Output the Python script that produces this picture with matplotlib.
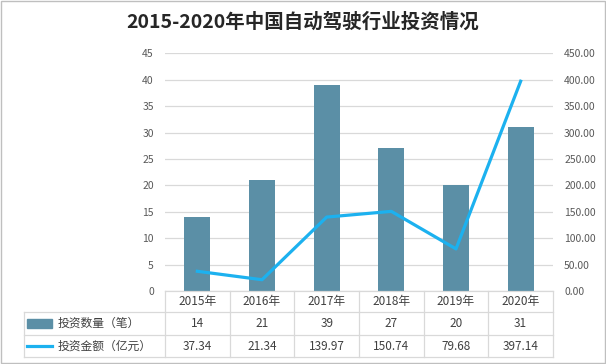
import matplotlib
matplotlib.use("Agg")
import matplotlib.pyplot as plt
from matplotlib.patches import Rectangle

plt.rcParams["font.family"] = ["Noto Sans CJK SC", "DejaVu Sans"]

years = ["2015年", "2016年", "2017年", "2018年", "2019年", "2020年"]
count = [14, 21, 39, 27, 20, 31]
amount = [37.34, 21.34, 139.97, 150.74, 79.68, 397.14]
count_label = "投资数量（笔）"
amount_label = "投资金额（亿元）"
title = "2015-2020年中国自动驾驶行业投资情况"

bar_color = "#5b8fa6"
line_color = "#1cb1ef"
grid_color = "#d9d9d9"
text_color = "#404040"
tick_color = "#595959"

fig = plt.figure(figsize=(6.06, 3.64), dpi=100)
ax = fig.add_axes([165 / 606, 73 / 364, 388 / 606, 237.7 / 364])
ax2 = ax.twinx()

x = list(range(len(years)))
ax.bar(x, count, width=0.40, color=bar_color, zorder=2)
ax2.plot(x, amount, color=line_color, linewidth=2.3, zorder=3)

ax.set_xlim(-0.5, 5.5)
ax.set_ylim(0, 45)
ax.set_yticks(range(0, 50, 5))
ax2.set_ylim(0, 450)
ax2.set_yticks(range(0, 500, 50))
ax2.set_yticklabels(["%.2f" % v for v in range(0, 500, 50)])
ax.set_xticks([])

ax.yaxis.grid(True, color=grid_color, linewidth=0.9, zorder=0)
ax.set_axisbelow(True)
for a in (ax, ax2):
    for s in a.spines.values():
        s.set_visible(False)
    a.tick_params(axis="y", length=0, labelsize=7.5, labelcolor=tick_color, pad=8)
ax2.tick_params(axis="y", pad=8)

fig.text(0.5, 1 - 22 / 364, title, ha="center", va="center",
         fontsize=14, fontweight="bold", color="#262626")

# data table under the plot
tr = ax.get_xaxis_transform()
lk = dict(transform=tr, color=grid_color, linewidth=0.9, clip_on=False)
y_top, y_h, y_r1, y_bot = 0, -0.088, -0.185, -0.278
left = -2.68
ax.plot([-0.5, 5.5], [y_top, y_top], **lk)
for yy in (y_h, y_r1, y_bot):
    ax.plot([left, 5.5], [yy, yy], **lk)
ax.plot([left, left], [y_h, y_bot], **lk)
for i in range(7):
    ax.plot([i - 0.5, i - 0.5], [y_top, y_bot], **lk)

tk = dict(transform=tr, ha="center", va="center", fontsize=8.5, color=text_color, clip_on=False)
for i, (yr, c, m) in enumerate(zip(years, count, amount)):
    ax.text(i, (y_top + y_h) / 2, yr, **tk)
    ax.text(i, (y_h + y_r1) / 2, str(c), **tk)
    ax.text(i, (y_r1 + y_bot) / 2, "%.2f" % m, **tk)

r1c = (y_h + y_r1) / 2
r2c = (y_r1 + y_bot) / 2
ax.add_patch(Rectangle((-2.63, r1c - 0.018), 0.38, 0.036, transform=tr,
                       color=bar_color, clip_on=False))
ax.plot([-2.63, -2.25], [r2c, r2c], transform=tr, color=line_color,
        linewidth=2.3, clip_on=False)
ax.text(-2.16, r1c, count_label, transform=tr, ha="left", va="center",
        fontsize=8.5, color=text_color)
ax.text(-2.16, r2c, amount_label, transform=tr, ha="left", va="center",
        fontsize=8.5, color=text_color)

fig.patches.append(Rectangle((0.002, 0.003), 0.996, 0.994, transform=fig.transFigure,
                             fill=False, edgecolor="#bfbfbf", linewidth=1))

fig.savefig("out.png", dpi=100)
